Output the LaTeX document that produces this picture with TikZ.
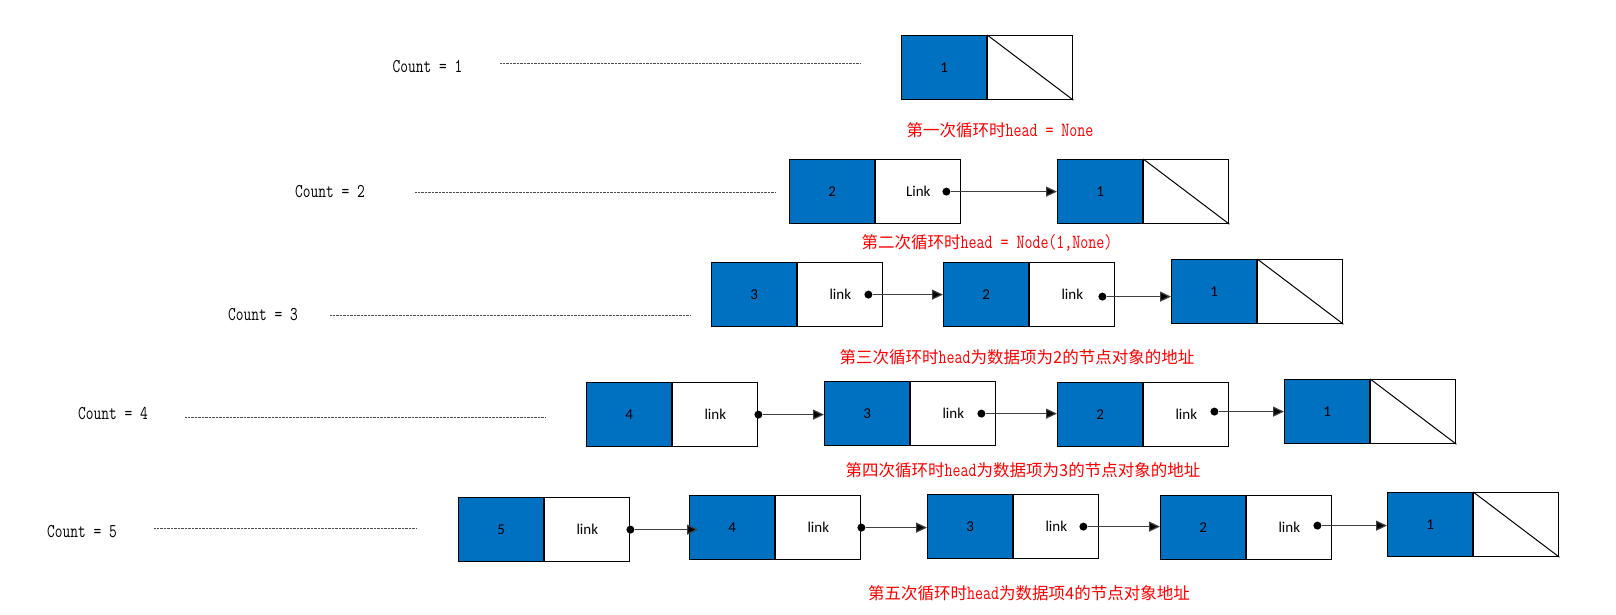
\documentclass[tikz,border=0pt]{standalone}
\usepackage{fontspec}
\usepackage{graphicx}
\usetikzlibrary{arrows.meta,calc}
\newfontfamily\cjk{Noto Sans CJK SC}
\newfontfamily\carlito{Carlito}
\definecolor{cellblue}{HTML}{0070C0}
\definecolor{labelred}{HTML}{FF0000}
\newcommand\tallmono[2]{\scalebox{1}[1.3]{\fontsize{#1}{#1}\selectfont\ttfamily #2}}
\begin{document}
\begin{tikzpicture}[x=1pt,y=-1pt,
  cellbase/.style={draw=black, line width=1.2pt, minimum width=85pt, minimum height=64pt,
    inner sep=0pt, anchor=north west, font=\carlito\fontsize{15}{18}\selectfont},
  datacell/.style={cellbase, fill=cellblue},
  linkcell/.style={cellbase, fill=white},
  ptrdot/.style={circle, fill=black, inner sep=0pt, minimum size=8pt},
  ptr/.style={draw=black!75, line width=1.2pt, -{Triangle[length=11pt,width=10pt,fill=black]}},
  guide/.style={draw=black!70, line width=0.7pt, dash pattern=on 1pt off 0.4pt},
  countlabel/.style={inner sep=0pt},
  steplabel/.style={text=labelred, inner sep=0pt, font=\cjk\fontsize{16.5}{20}\selectfont},
  nullslash/.style={draw=black, line width=1pt}
]
\useasboundingbox (0,0) rectangle (1616,614);
\fill[white] (0,0) rectangle (1616,614);

% ---------- Count labels and guide lines ----------
\node[countlabel] (c1) at (427.5,67) {\tallmono{15}{Count = 1}};
\node[countlabel] (c2) at (330,192) {\tallmono{15}{Count = 2}};
\node[countlabel] (c3) at (263,315) {\tallmono{15}{Count = 3}};
\node[countlabel] (c4) at (113,414) {\tallmono{15}{Count = 4}};
\node[countlabel] (c5) at (82,532) {\tallmono{15}{Count = 5}};
\coordinate (g1s) at (500,63);  \coordinate (g1e) at (861,63);
\coordinate (g2s) at (415,192); \coordinate (g2e) at (776,192);
\coordinate (g3s) at (330,315); \coordinate (g3e) at (691,315);
\coordinate (g4s) at (185,417); \coordinate (g4e) at (546,417);
\coordinate (g5s) at (154,528); \coordinate (g5e) at (417,528);
\draw[guide] (g1s) -- (g1e);
\draw[guide] (g2s) -- (g2e);
\draw[guide] (g3s) -- (g3e);
\draw[guide] (g4s) -- (g4e);
\draw[guide] (g5s) -- (g5e);

% ---------- Row 1 ----------
\node[datacell] (r1n1v) at (901,35) {1};
\node[linkcell] (r1n1p) at (r1n1v.north east) {};
\draw[nullslash] (r1n1p.north west) -- (r1n1p.south east);
\node[steplabel] (s1) at (1000,130) {第一次循环时\tallmono{15.5}{head = None}};

% ---------- Row 2 ----------
\node[datacell] (r2n2v) at (789,159) {2};
\node[linkcell] (r2n2p) at (r2n2v.north east) {Link};
\node[datacell] (r2n1v) at (1057,159) {1};
\node[linkcell] (r2n1p) at (r2n1v.north east) {};
\draw[nullslash] (r2n1p.north west) -- (r2n1p.south east);
\node[ptrdot] (r2d2) at ([xshift=-15pt]r2n2p.east) {};
\draw[ptr] (r2d2) -- (r2d2 -| r2n1v.west);
\node[steplabel] (s2) at (987,243) {第二次循环时\tallmono{15.5}{head = Node(1,None)}};

% ---------- Row 3 ----------
\node[datacell] (r3n3v) at (711,262) {3};
\node[linkcell] (r3n3p) at (r3n3v.north east) {link};
\node[datacell] (r3n2v) at (943,262) {2};
\node[linkcell] (r3n2p) at (r3n2v.north east) {link};
\node[datacell] (r3n1v) at (1171,259) {1};
\node[linkcell] (r3n1p) at (r3n1v.north east) {};
\draw[nullslash] (r3n1p.north west) -- (r3n1p.south east);
\node[ptrdot] (r3d3) at ([xshift=-15pt]r3n3p.east) {};
\node[ptrdot] (r3d2) at ([xshift=-13pt,yshift=-2pt]r3n2p.east) {};
\draw[ptr] (r3d3) -- (r3d3 -| r3n2v.west);
\draw[ptr] (r3d2) -- (r3d2 -| r3n1v.west);
\node[steplabel] (s3) at (1017,357) {第三次循环时\tallmono{15.5}{head}为数据项为2的节点对象的地址};

% ---------- Row 4 ----------
\node[datacell] (r4n4v) at (586,382) {4};
\node[linkcell] (r4n4p) at (r4n4v.north east) {link};
\node[datacell] (r4n3v) at (824,381) {3};
\node[linkcell] (r4n3p) at (r4n3v.north east) {link};
\node[datacell] (r4n2v) at (1057,382) {2};
\node[linkcell] (r4n2p) at (r4n2v.north east) {link};
\node[datacell] (r4n1v) at (1284,379) {1};
\node[linkcell] (r4n1p) at (r4n1v.north east) {};
\draw[nullslash] (r4n1p.north west) -- (r4n1p.south east);
\node[ptrdot] (r4d4) at (r4n4p.east) {};
\node[ptrdot] (r4d3) at ([xshift=-15pt]r4n3p.east) {};
\node[ptrdot] (r4d2) at ([xshift=-15pt,yshift=3pt]r4n2p.east) {};
\draw[ptr] (r4d4) -- (r4d4 -| r4n3v.west);
\draw[ptr] (r4d3) -- (r4d3 -| r4n2v.west);
\draw[ptr] (r4d2) -- (r4d2 -| r4n1v.west);
\node[steplabel] (s4) at (1023,470) {第四次循环时\tallmono{15.5}{head}为数据项为3的节点对象的地址};

% ---------- Row 5 ----------
\node[datacell] (r5n5v) at (458,497) {5};
\node[linkcell] (r5n5p) at (r5n5v.north east) {link};
\node[datacell] (r5n4v) at (689,495) {4};
\node[linkcell] (r5n4p) at (r5n4v.north east) {link};
\node[datacell] (r5n3v) at (927,494) {3};
\node[linkcell] (r5n3p) at (r5n3v.north east) {link};
\node[datacell] (r5n2v) at (1160,495) {2};
\node[linkcell] (r5n2p) at (r5n2v.north east) {link};
\node[datacell] (r5n1v) at (1387,492) {1};
\node[linkcell] (r5n1p) at (r5n1v.north east) {};
\draw[nullslash] (r5n1p.north west) -- (r5n1p.south east);
\node[ptrdot] (r5d5) at (r5n5p.east) {};
\node[ptrdot] (r5d4) at (r5n4p.east) {};
\node[ptrdot] (r5d3) at ([xshift=-16pt]r5n3p.east) {};
\node[ptrdot] (r5d2) at ([xshift=-15pt,yshift=2pt]r5n2p.east) {};
\draw[ptr] (r5d5) -- ($(r5d5 -| r5n4v.west)+(9,0)$);
\draw[ptr] (r5d4) -- (r5d4 -| r5n3v.west);
\draw[ptr] (r5d3) -- (r5d3 -| r5n2v.west);
\draw[ptr] (r5d2) -- (r5d2 -| r5n1v.west);
\node[steplabel] (s5) at (1029,593) {第五次循环时\tallmono{15.5}{head}为数据项4的节点对象地址};
\end{tikzpicture}
\end{document}
